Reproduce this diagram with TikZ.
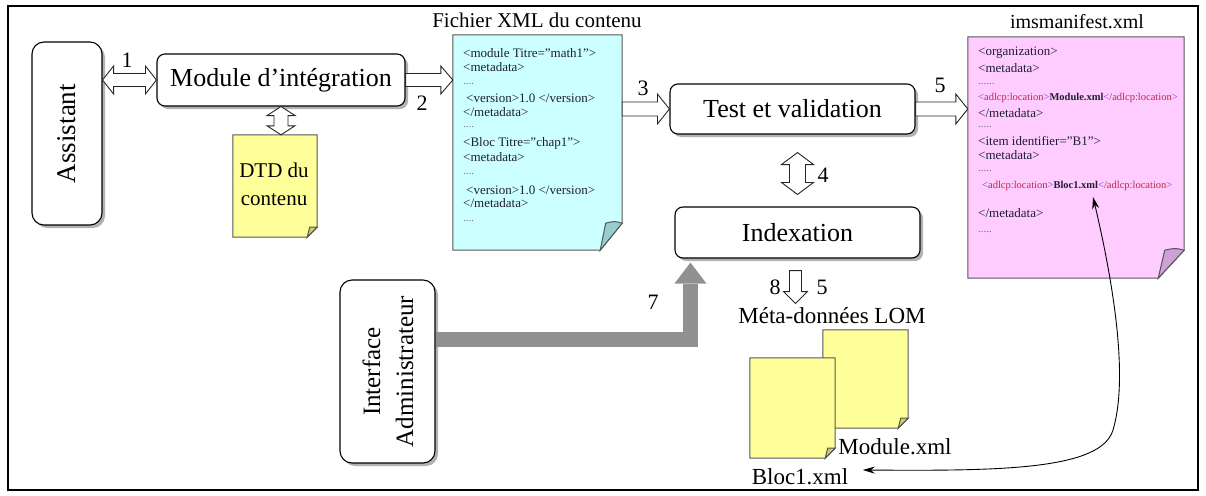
\documentclass[tikz,border=0pt]{standalone}
\usepackage{fontspec}
\setmainfont{Liberation Serif}
\usetikzlibrary{calc,shadows,arrows.meta}
\definecolor{cyanfill}{RGB}{204,255,255}
\definecolor{cyanflap}{RGB}{150,205,205}
\definecolor{pinkfill}{RGB}{255,204,255}
\definecolor{pinkflap}{RGB}{205,160,215}
\definecolor{yelfill}{RGB}{255,255,153}
\definecolor{yelflap}{RGB}{205,205,110}
\definecolor{docb}{RGB}{85,85,85}
\definecolor{doctext}{RGB}{30,30,50}
\definecolor{tagb}{RGB}{120,60,230}
\definecolor{tagr}{RGB}{190,40,70}
\definecolor{graya}{RGB}{145,145,145}
\newcommand\fs[2]{\fontsize{#1}{#2}\selectfont}
\newcommand\tg[1]{\textcolor{tagb}{<}\textcolor{tagr}{#1}\textcolor{tagb}{>}}
\tikzset{
  rbox/.style={draw=black, line width=1.1pt, fill=white, rounded corners=8pt,
    drop shadow={shadow xshift=3pt, shadow yshift=-3pt, fill=black, opacity=0.3}, inner sep=0pt},
  lbl/.style={font=\fs{26}{30}, text=black},
  num/.style={font=\fs{22}{26}, text=black},
  holder/.style={inner sep=0pt, draw=none},
  hollow/.style={draw=black!85, line width=0.9pt, fill=white, line join=miter},
  docpath/.style={draw=docb, line width=1pt},
  xl/.style={anchor=west, inner sep=0pt, font=\fs{13}{14}, text=doctext},
  dl/.style={anchor=west, inner sep=0pt, font=\fs{11}{12}, text=black!55},
  al/.style={anchor=west, inner sep=0pt, font=\fs{10.5}{12}},
}
\newcommand\docshape[5]{%
  \filldraw[fill=#2, docpath] (#1.north west) -- (#1.north east) -- ($(#1.south east)+(0,-#5)$) -- ($(#1.south east)+(-#4,0)$) -- (#1.south west) -- cycle;
  \filldraw[fill=#3, docpath] ($(#1.south east)+(0,-#5)$) .. controls ($(#1.south east)+(-0.35*#4,-1.08*#5)$) .. ($(#1.south east)+(-0.75*#4,-#5)$) -- ($(#1.south east)+(-#4,0)$) -- cycle;}
\newcommand\sarrow[5]{%
  \filldraw[hollow] ($(#1)!#3!90:(#2)$) -- ($(#2)!#5!(#1)!#3!-90:(#1)$) -- ($(#2)!#5!(#1)!#4!-90:(#1)$) -- (#2) -- ($(#2)!#5!(#1)!#4!90:(#1)$) -- ($(#2)!#5!(#1)!#3!90:(#1)$) -- ($(#1)!#3!-90:(#2)$) -- cycle;}
\newcommand\darrow[5]{%
  \filldraw[hollow] (#1) -- ($(#1)!#5!(#2)!#4!90:(#2)$) -- ($(#1)!#5!(#2)!#3!90:(#2)$) -- ($(#2)!#5!(#1)!#3!-90:(#1)$) -- ($(#2)!#5!(#1)!#4!-90:(#1)$) -- (#2) -- ($(#2)!#5!(#1)!#4!90:(#1)$) -- ($(#2)!#5!(#1)!#3!90:(#1)$) -- ($(#1)!#5!(#2)!#3!-90:(#2)$) -- ($(#1)!#5!(#2)!#4!-90:(#2)$) -- cycle;}
\begin{document}
\begin{tikzpicture}[x=1pt,y=-1pt]
\useasboundingbox (0,0) rectangle (1206,495);
\draw[line width=1.2pt] (8,6) rectangle (1198,490);

% boxes
\node[rbox, rounded corners=12pt, minimum width=70pt, minimum height=183pt] (asst) at (67,133.5) {};
\node[lbl, rotate=90, font=\fs{27}{30}] (asstt) at (67,133.5) {Assistant};
\node[rbox, minimum width=248pt, minimum height=52pt, lbl] (mod) at (281,80) {Module d’intégration};
\node[rbox, minimum width=245pt, minimum height=50pt, lbl] (test) at (792.5,109) {Test et validation};
\node[rbox, minimum width=245pt, minimum height=51pt, lbl] (idx) at (797.5,232.5) {Indexation};
\node[rbox, rounded corners=12pt, minimum width=95pt, minimum height=183pt] (adm) at (387.5,371.5) {};
\node[rotate=90, align=center, font=\fs{25}{33}] (admt) at (388,371.5) {Interface\\Administrateur};

% documents
\node[holder, minimum width=84pt, minimum height=102pt] (dtd) at (275,186) {};
\docshape{dtd}{yelfill}{yelflap}{10}{10}
\node[align=center, font=\fs{21}{28}] (dtdt) at (274,184) {DTD du\\contenu};

\node[holder, minimum width=169pt, minimum height=215pt] (xml) at (537.5,142.5) {};
\docshape{xml}{cyanfill}{cyanflap}{22}{27}
\node[font=\fs{21}{24}] (xmlt) at (537,20) {Fichier XML du contenu};

\node[holder, minimum width=216pt, minimum height=241pt] (man) at (1076,157.5) {};
\docshape{man}{pinkfill}{pinkflap}{26}{28}
\node[font=\fs{20}{24}] (mant) at (1077,22) {imsmanifest.xml};

\node[holder, minimum width=85pt, minimum height=98pt] (dmod) at (865.5,379) {};
\docshape{dmod}{yelfill}{yelflap}{10}{10}
\node[holder, minimum width=85pt, minimum height=100pt] (dbloc) at (792.5,408) {};
\docshape{dbloc}{yelfill}{yelflap}{10}{10}

% XML lines
\node[xl] (x1) at (463,53) {<module Titre="math1">};
\node[xl] (x2) at (463,67) {<metadata>};
\node[dl] (x3) at (463,84) {....};
\node[xl] (x4) at (466,98) {<version>1.0 </version>};
\node[xl] (x5) at (463,112) {</metadata>};
\node[dl] (x6) at (463,127) {....};
\node[xl] (x7) at (463,143) {<Bloc Titre="chap1">};
\node[xl] (x8) at (463,157) {<metadata>};
\node[dl] (x9) at (463,174) {....};
\node[xl] (x10) at (466,190) {<version>1.0 </version>};
\node[xl] (x11) at (463,203) {</metadata>};
\node[dl] (x12) at (463,221) {....};

% manifest lines
\node[xl] (m1) at (978,53) {<organization>};
\node[xl] (m2) at (978,68) {<metadata>};
\node[dl] (m3) at (978,84) {......};
\node[al] (m4) at (978,98) {\tg{adlcp:location}\textbf{\textcolor{doctext}{Module.xml}}\tg{/adlcp:location}};
\node[xl] (m5) at (978,113) {</metadata>};
\node[dl] (m6) at (978,127) {.....};
\node[xl] (m7) at (978,141) {<item identifier="B1">};
\node[xl] (m8) at (978,155) {<metadata>};
\node[dl] (m9) at (978,171) {.....};
\node[al] (m10) at (982,186) {\tg{adlcp:location}\textbf{\textcolor{doctext}{Bloc1.xml}}\tg{/adlcp:location}};
\node[xl] (m11) at (978,213) {</metadata>};
\node[dl] (m12) at (978,232) {.....};

% labels
\node[font=\fs{23}{26}] (lom) at (832,316) {Méta-données LOM};
\node[font=\fs{23}{26}] (modl) at (895,447) {Module.xml};
\node[font=\fs{23}{26}] (bl) at (800,477) {Bloc1.xml};
\node[num] (n1) at (127,60) {1};
\node[num] (n2) at (422,103) {2};
\node[num] (n3) at (643,88) {3};
\node[num] (n4) at (823,175) {4};
\node[num] (n5) at (940,85) {5};
\node[num] (n7) at (653,302) {7};
\node[num] (n8) at (775,287) {8};
\node[num] (n5b) at (822,287) {5};

% hollow arrows
\coordinate (a1s) at (asst.east |- mod.west);
\darrow{a1s}{mod.west}{6.5pt}{14pt}{11pt}
\coordinate (a2e) at (xml.west |- mod.east);
\sarrow{mod.east}{a2e}{6.5pt}{14pt}{12pt}
\coordinate (a3s) at (xml.east |- test.west);
\sarrow{a3s}{test.west}{7pt}{15pt}{12pt}
\coordinate (a5e) at (man.west |- test.east);
\sarrow{test.east}{a5e}{7pt}{15pt}{12pt}
\coordinate (adt) at (mod.south |- dtd.north);
\darrow{mod.south}{adt}{7pt}{14pt}{9pt}
\coordinate (a4s) at ($(test.south -| idx.north)+(0,18)$);
\coordinate (a4e) at ($(idx.north)+(0,-12)$);
\darrow{a4s}{a4e}{8pt}{16pt}{12pt}
\coordinate (a8s) at ($(idx.south)+(-2,12)$);
\coordinate (a8e) at ($(idx.south)+(-2,45)$);
\sarrow{a8s}{a8e}{6pt}{12pt}{12pt}

% thick gray arrow 7
\coordinate (a7) at ($(idx.south west)+(16,0)$);
\coordinate (a7s) at ($(adm.east)+(0,-32)$);
\draw[graya, line width=15.5pt, line join=miter] (a7s) -- (a7 |- a7s) -- ($(a7)+(0,25)$);
\fill[graya] ($(a7)+(-16,25)$) -- ($(a7)+(16,25)$) -- ($(a7)+(0,4)$) -- cycle;

% curved double arrow
\coordinate (ct) at (1093,197);
\coordinate (ce) at ($(bl.east)+(11,-7)$);
\draw[line width=0.9pt, {Stealth[length=12pt,width=7pt]}-{Stealth[length=12pt,width=7pt]}]
  (ct) .. controls (1115,290) and (1128,380) .. (1113,430) .. controls (1101,470) and (1000,471) .. (ce);
\end{tikzpicture}
\end{document}
